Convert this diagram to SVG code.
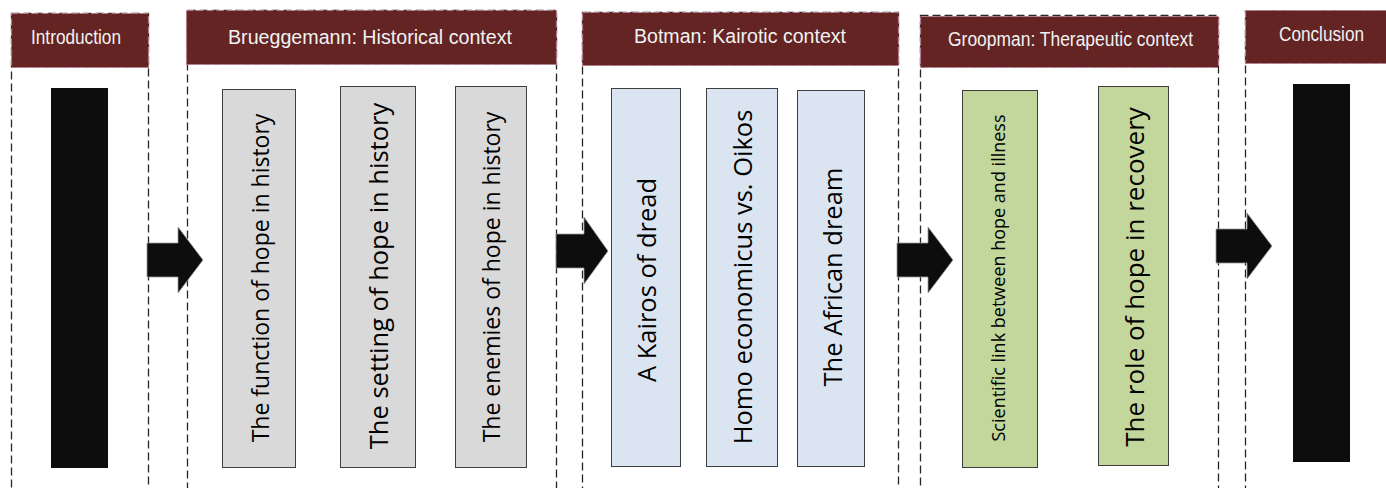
<svg xmlns="http://www.w3.org/2000/svg" width="1386" height="488" viewBox="0 0 1386 488">
<style>
.frame{fill:none;stroke:#262626;stroke-width:1.3;stroke-dasharray:8 4}
.hdr{fill:#632423;stroke:#b27c8c;stroke-width:1.2;stroke-dasharray:7 3}
.htxt{font-family:"Liberation Sans",Arial,sans-serif;font-size:20px;fill:#f2f2f2}
.blk{fill:#0d0d0d}
.gray{fill:#d9d9d9;stroke:#3f3f3f;stroke-width:1}
.blue{fill:#dbe5f1;stroke:#3f3f3f;stroke-width:1}
.green{fill:#c3d69b;stroke:#3f3f3f;stroke-width:1}
.btxt{font-family:"Open Sans","Noto Sans",sans-serif;fill:#000;text-anchor:middle;dominant-baseline:central}
.arrow{fill:#0d0d0d;stroke:#9a9a9a;stroke-width:0.8}
</style>
<rect width="1386" height="488" fill="#fff"/>

<g id="introduction">
<rect class="frame" x="11.5" y="13.5" width="137" height="490"/>
<rect class="hdr" x="11.5" y="13.5" width="137" height="54"/>
<text class="htxt" x="31" y="44" textLength="90" lengthAdjust="spacingAndGlyphs">Introduction</text>
<rect class="blk" x="51" y="88" width="57" height="380"/>
</g>

<g id="brueggemann">
<rect class="frame" x="187.5" y="10.5" width="369" height="495"/>
<rect class="hdr" x="186.5" y="10.5" width="370" height="54"/>
<text class="htxt" x="228" y="44" textLength="284" lengthAdjust="spacingAndGlyphs">Brueggemann: Historical context</text>
<g id="b1"><rect class="gray" x="222.5" y="89.5" width="73" height="378"/>
<text class="btxt" transform="translate(260,278) rotate(-90)" font-size="23">The function of hope in history</text></g>
<g id="b2"><rect class="gray" x="340.5" y="86.5" width="75" height="381"/>
<text class="btxt" transform="translate(378,276) rotate(-90)" font-size="25.5">The setting of hope in history</text></g>
<g id="b3"><rect class="gray" x="455.5" y="86.5" width="71" height="381"/>
<text class="btxt" transform="translate(491,277) rotate(-90)" font-size="23">The enemies of hope in history</text></g>
</g>

<g id="botman">
<rect class="frame" x="582.5" y="12.5" width="316" height="495"/>
<rect class="hdr" x="582.5" y="12.5" width="316" height="53"/>
<text class="htxt" x="634" y="43" textLength="212" lengthAdjust="spacingAndGlyphs">Botman: Kairotic context</text>
<g id="k1"><rect class="blue" x="611.5" y="88.5" width="69" height="378"/>
<text class="btxt" transform="translate(646,280) rotate(-90)" font-size="25.5">A Kairos of dread</text></g>
<g id="k2"><rect class="blue" x="706.5" y="88.5" width="71" height="378"/>
<text class="btxt" transform="translate(742,277) rotate(-90)" font-size="25.5">Homo economicus vs. Oikos</text></g>
<g id="k3"><rect class="blue" x="797.5" y="90.5" width="67" height="376"/>
<text class="btxt" transform="translate(832,277) rotate(-90)" font-size="25.5">The African dream</text></g>
</g>

<g id="groopman">
<rect class="frame" x="920.5" y="15.5" width="298" height="495"/>
<rect class="hdr" x="920.5" y="16.5" width="298" height="51"/>
<text class="htxt" x="948" y="46" textLength="245" lengthAdjust="spacingAndGlyphs">Groopman: Therapeutic context</text>
<g id="g1"><rect class="green" x="962.5" y="90.5" width="75" height="377"/>
<text class="btxt" transform="translate(998,278) rotate(-90)" font-size="18">Scientific link between hope and illness</text></g>
<g id="g2"><rect class="green" x="1098.5" y="86.5" width="70" height="379"/>
<text class="btxt" transform="translate(1134,277) rotate(-90)" font-size="26">The role of hope in recovery</text></g>
</g>

<g id="conclusion">
<rect class="frame" x="1245.5" y="11.5" width="160" height="495"/>
<rect class="hdr" x="1245.5" y="10.5" width="160" height="53"/>
<text class="htxt" x="1279" y="41" textLength="85" lengthAdjust="spacingAndGlyphs">Conclusion</text>
<rect class="blk" x="1293" y="84" width="57" height="378"/>
</g>

<g id="connectors">
<polygon class="arrow" points="147,243 178,243 178,227 203,260 178,293 178,277 147,277"/>
<polygon class="arrow" points="556,234 584,234 584,217 608,251 584,284 584,268 556,268"/>
<polygon class="arrow" points="897,243 928,243 928,227 953,260 928,293 928,277 897,277"/>
<polygon class="arrow" points="1216,229 1247,229 1247,213 1272,246 1247,279 1247,263 1216,263"/>
</g>
</svg>
